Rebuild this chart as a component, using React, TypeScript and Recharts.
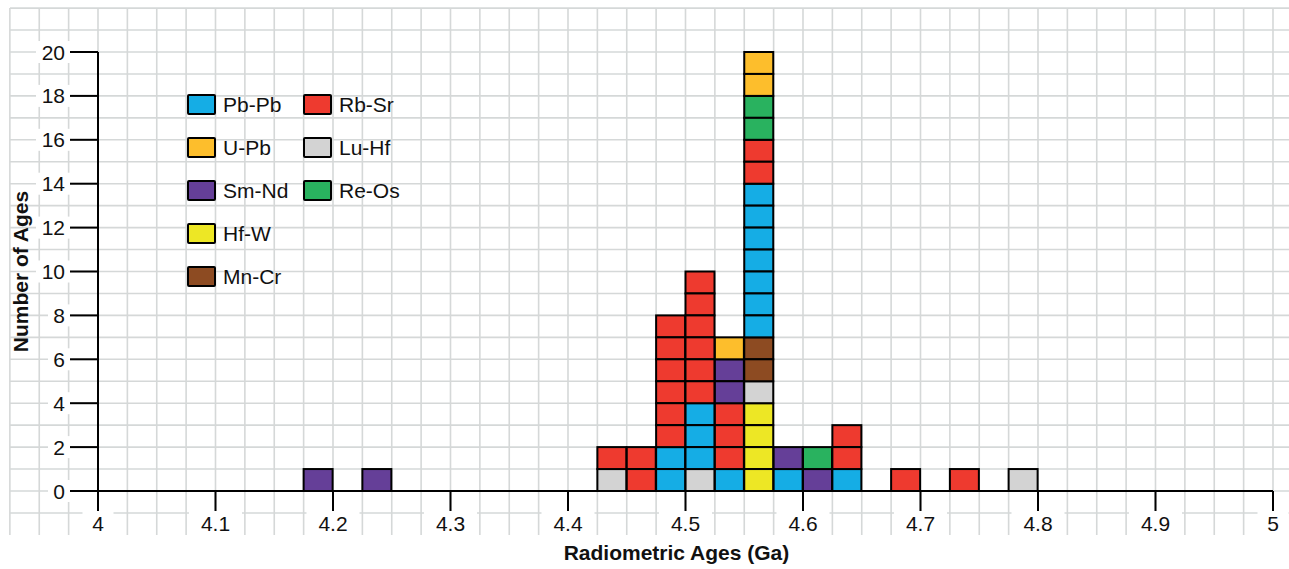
import { Bar, BarChart, CartesianGrid, Label, Legend, XAxis, YAxis } from "recharts";

// histogram bins (left edges, Ga) and how many ages of each method fall in them
const binStarts = [4.175, 4.225, 4.425, 4.45, 4.475, 4.5, 4.525, 4.55, 4.575, 4.6, 4.625, 4.675, 4.725, 4.775];
const binWidth = 0.025;

const hfW = [0, 0, 0, 0, 0, 0, 0, 4, 0, 0, 0, 0, 0, 0];
const luHf = [0, 0, 1, 0, 0, 1, 0, 1, 0, 0, 0, 0, 0, 1];
const mnCr = [0, 0, 0, 0, 0, 0, 0, 2, 0, 0, 0, 0, 0, 0];
const pbPb = [0, 0, 0, 0, 2, 3, 1, 7, 1, 0, 1, 0, 0, 0];
const rbSr = [0, 0, 1, 2, 6, 6, 3, 2, 0, 0, 2, 1, 1, 0];
const smNd = [1, 1, 0, 0, 0, 0, 2, 0, 1, 1, 0, 0, 0, 0];
const reOs = [0, 0, 0, 0, 0, 0, 0, 2, 0, 1, 0, 0, 0, 0];
const uPb = [0, 0, 0, 0, 0, 0, 1, 2, 0, 0, 0, 0, 0, 0];

// stacking order, bottom to top
const series = [
  { key: "Hf-W", values: hfW, color: "#ede725" },
  { key: "Lu-Hf", values: luHf, color: "#d3d3d3" },
  { key: "Mn-Cr", values: mnCr, color: "#8d4b22" },
  { key: "Pb-Pb", values: pbPb, color: "#15ade5" },
  { key: "Rb-Sr", values: rbSr, color: "#ee3a2f" },
  { key: "Sm-Nd", values: smNd, color: "#653f98" },
  { key: "Re-Os", values: reOs, color: "#29b25f" },
  { key: "U-Pb", values: uPb, color: "#fdbe2c" },
];

const legendColumns = [
  ["Pb-Pb", "U-Pb", "Sm-Nd", "Hf-W", "Mn-Cr"],
  ["Rb-Sr", "Lu-Hf", "Re-Os"],
];

const xDomain = [4, 5];
const yDomain = [0, 20];
const xTicks = [4, 4.1, 4.2, 4.3, 4.4, 4.5, 4.6, 4.7, 4.8, 4.9, 5];
const yTicks = [0, 2, 4, 6, 8, 10, 12, 14, 16, 18, 20];

// background graph-paper lines, in data units
const gridXValues = Array.from({ length: 44 }, (_, k) => 4 + (k - 3) * binWidth);
const gridYValues = Array.from({ length: 24 }, (_, k) => k - 1);

const data = binStarts.map((start, i) => {
  const row: Record<string, number> = { center: start + binWidth / 2 };
  series.forEach((s) => {
    row[s.key] = s.values[i];
  });
  return row;
});

const FONT = "'Liberation Sans', Arial, Helvetica, sans-serif";
const colorOf = (name: string) => series.find((s) => s.key === name)?.color ?? "#000";

function unitSquares(props: any, key: string) {
  const { x, y, width, height, fill, payload } = props;
  const n = payload?.[key] ?? 0;
  if (!n || !height) return <g />;
  const h = height / n;
  return (
    <g>
      {Array.from({ length: n }, (_, i) => (
        <rect key={i} x={x} y={y + i * h} width={width} height={h} fill={fill} stroke="#000" strokeWidth={2} />
      ))}
    </g>
  );
}

function XTick({ x, y, payload }: any) {
  const label = String(payload.value);
  const w = label.length * 11 + 20;
  return (
    <g>
      <rect x={x - w / 2} y={y - 4} width={w} height={26} fill="#fff" />
      <text x={x} y={y + 16} textAnchor="middle" fontSize={21} fontFamily={FONT} fill="#111">
        {label}
      </text>
    </g>
  );
}

function YTick({ x, y, payload }: any) {
  const label = String(payload.value);
  const w = label.length * 12 + 8;
  return (
    <g>
      <rect x={x - w + 3} y={y - 11} width={w + 2} height={22} fill="#fff" />
      <text x={x} y={y + 7.5} textAnchor="end" fontSize={21} fontFamily={FONT} fill="#111">
        {label}
      </text>
    </g>
  );
}

function LegendBox() {
  return (
    <div style={{ display: "flex", fontFamily: FONT }}>
      {legendColumns.map((col, ci) => (
        <div key={ci} style={{ width: ci === 0 ? 116 : 140 }}>
          {col.map((name) => (
            <div key={name} style={{ display: "flex", alignItems: "center", height: 43 }}>
              <span
                style={{
                  boxSizing: "border-box",
                  width: 29,
                  height: 21,
                  background: colorOf(name),
                  border: "2px solid #000",
                  borderRadius: 2,
                }}
              />
              <span style={{ marginLeft: 7, fontSize: 21, color: "#111" }}>{name}</span>
            </div>
          ))}
        </div>
      ))}
    </div>
  );
}

export default function App() {
  return (
    <div style={{ position: "absolute", left: 0, top: 0, width: 1289, height: 569, background: "#fff" }}>
      <BarChart
        width={1289}
        height={569}
        data={data}
        margin={{ top: 52, right: 16, bottom: 48, left: 38 }}
        barCategoryGap={0}
        barGap={0}
      >
        <CartesianGrid
          x={10}
          y={8}
          width={1279}
          height={527}
          stroke="#d5d8d8"
          strokeWidth={1.6}
          fill="none"
          verticalCoordinatesGenerator={({ offset }: any) =>
            gridXValues.map((v) => offset.left + ((v - xDomain[0]) / (xDomain[1] - xDomain[0])) * offset.width)
          }
          horizontalCoordinatesGenerator={({ offset }: any) =>
            gridYValues.map((v) => offset.top + offset.height - ((v - yDomain[0]) / (yDomain[1] - yDomain[0])) * offset.height)
          }
        />
        <XAxis
          dataKey="center"
          type="number"
          domain={xDomain}
          ticks={xTicks}
          allowDataOverflow
          height={30}
          tickSize={20}
          tickMargin={4}
          stroke="#000"
          strokeWidth={2}
          tick={<XTick />}
        >
          <Label
            content={({ viewBox }: any) => (
              <text
                x={viewBox.x + viewBox.width / 2 - 9}
                y={viewBox.y + 69}
                textAnchor="middle"
                fontSize={21}
                fontWeight="bold"
                fontFamily={FONT}
                fill="#111"
              >
                Radiometric Ages (Ga)
              </text>
            )}
          />
        </XAxis>
        <YAxis
          type="number"
          domain={yDomain}
          ticks={yTicks}
          width={60}
          tickSize={28}
          tickMargin={5}
          stroke="#000"
          strokeWidth={2}
          tick={<YTick />}
        >
          <Label
            content={({ viewBox }: any) => {
              const cx = viewBox.x - 10;
              const cy = viewBox.y + viewBox.height / 2;
              return (
                <text
                  x={cx}
                  y={cy}
                  transform={`rotate(-90 ${cx} ${cy})`}
                  textAnchor="middle"
                  fontSize={21}
                  fontWeight="bold"
                  fontFamily={FONT}
                  fill="#111"
                >
                  Number of Ages
                </text>
              );
            }}
          />
        </YAxis>
        <Legend
          layout="horizontal"
          verticalAlign="middle"
          align="center"
          wrapperStyle={{ left: 187, top: 83, width: 260 }}
          content={() => <LegendBox />}
        />
        {series.map((s) => (
          <Bar
            key={s.key}
            dataKey={s.key}
            stackId="ages"
            fill={s.color}
            isAnimationActive={false}
            shape={(p: any) => unitSquares(p, s.key)}
          />
        ))}
      </BarChart>
    </div>
  );
}
